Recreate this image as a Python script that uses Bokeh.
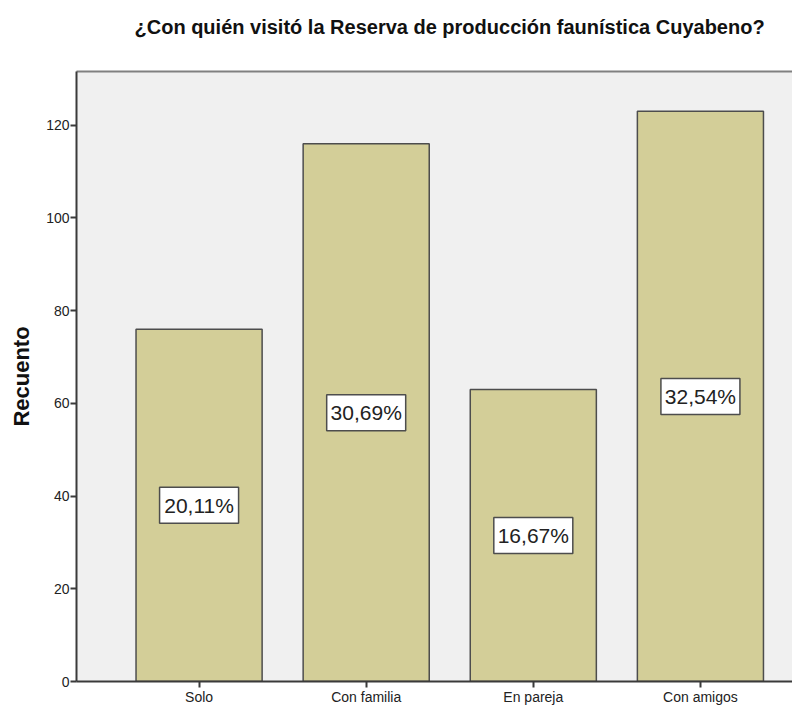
from bokeh.plotting import figure
from bokeh.models import ColumnDataSource, FixedTicker, LinearAxis, Range1d, Title
from bokeh.embed import file_html
from bokeh.resources import INLINE
from bokeh.core.properties import value

categories = ["Solo", "Con familia", "En pareja", "Con amigos"]
counts = [76, 116, 63, 123]
pct_labels = ["20,11%", "30,69%", "16,67%", "32,54%"]
y_ticks = [0, 20, 40, 60, 80, 100, 120]
title_text = "¿Con quién visitó la Reserva de producción faunística Cuyabeno?"
y_label = "Recuento"

positions = list(range(1, len(categories) + 1))
label_y = [c / 2 for c in counts]

src = ColumnDataSource(dict(x=positions, top=counts, ly=label_y, pct=pct_labels))

FONT = "Liberation Sans"
DARK = "#3a3a3a"
Y_MAX = 131.6

p = figure(width=792, height=707, output_backend="svg", toolbar_location=None,
           x_range=Range1d(0.2665, 4.551), y_range=Range1d(0, Y_MAX),
           min_border_left=76, min_border_right=0, min_border_top=71,
           min_border_bottom=10)
p.background_fill_color = "#F0F0F0"
p.border_fill_color = "white"
p.outline_line_color = None
p.grid.visible = False

p.vbar(x="x", top="top", width=0.7545, bottom=0, source=src,
       fill_color="#D3CE98", line_color="#4D4D4D", line_width=1.5)
p.rect(x="x", y="ly", width=79, height=36, width_units="screen",
       height_units="screen", source=src, fill_color="white",
       line_color="#4D4D4D", line_width=1.5)
p.text(x="x", y="ly", text="pct", source=src, text_align="center",
       text_baseline="middle", text_font=value(FONT), text_font_size="21px",
       text_color="#222222")

for ax in (p.xaxis[0], p.yaxis[0]):
    ax.major_tick_out = 6
    ax.major_tick_in = 0
    ax.minor_tick_out = 0
    ax.minor_tick_in = 0
    ax.major_label_standoff = 1
    ax.axis_line_width = 2
    ax.axis_line_color = DARK
    ax.major_tick_line_color = DARK
    ax.major_tick_line_width = 2
    ax.major_label_text_font = FONT
    ax.major_label_text_font_size = "14px"
    ax.major_label_text_color = "#222222"

p.xaxis.ticker = FixedTicker(ticks=positions)
p.xaxis.major_label_overrides = {pos: cat for pos, cat in zip(positions, categories)}
p.yaxis.ticker = FixedTicker(ticks=y_ticks)
p.yaxis.axis_label = y_label
p.yaxis.axis_label_text_font = FONT
p.yaxis.axis_label_text_font_size = "22px"
p.yaxis.axis_label_text_font_style = "bold"
p.yaxis.axis_label_text_color = "#111111"
p.yaxis.axis_label_standoff = 9

# top border line; an invisible tick gives the spacing below the title
top_axis = LinearAxis(major_tick_out=29, major_tick_in=0, minor_tick_out=0,
                      minor_tick_in=0, major_tick_line_color=None,
                      major_label_text_font_size="0px",
                      major_label_standoff=0, axis_line_color="#808080",
                      axis_line_width=2, ticker=FixedTicker(ticks=[2.5]),
                      major_label_overrides={2.5: ""})
p.add_layout(top_axis, "above")

title = Title(text=title_text, align="left", offset=58, standoff=10,
              text_font=FONT, text_font_size="20px", text_font_style="bold",
              text_color="#111111")
p.add_layout(title, "above")

open("out.html", "w").write(file_html(p, INLINE))
